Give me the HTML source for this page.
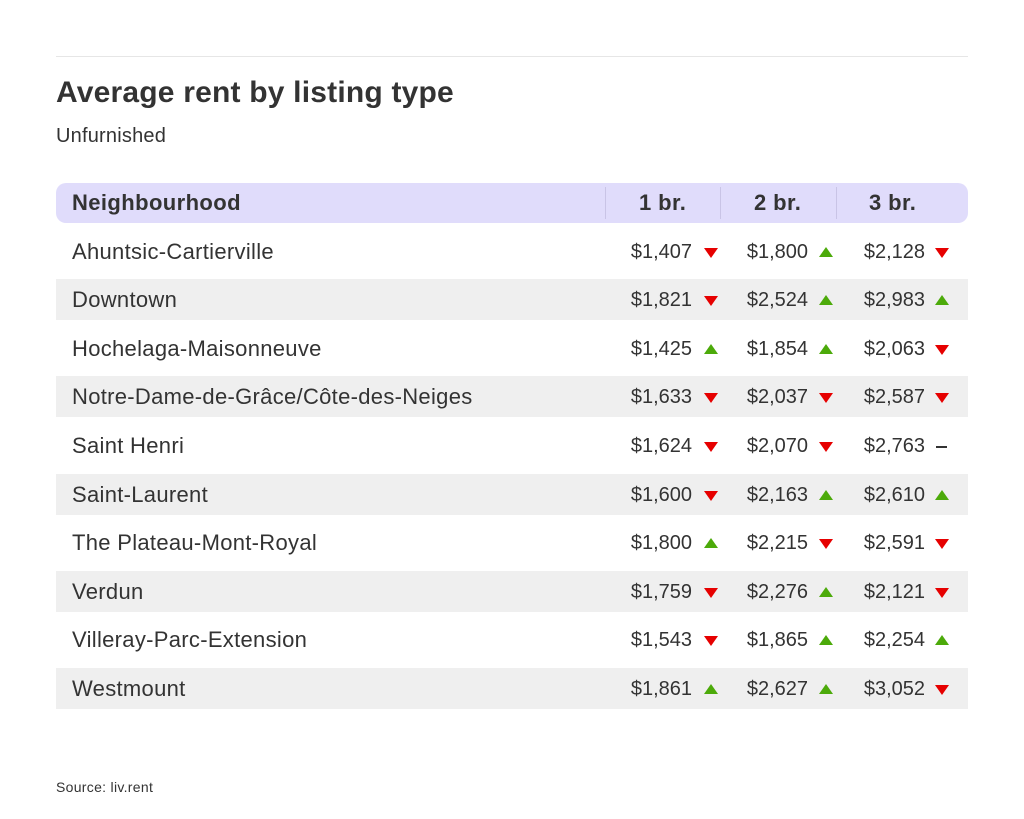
<!DOCTYPE html>
<html><head><meta charset="utf-8"><style>
body{margin:0;width:1024px;height:819px;background:#fff;font-family:"Liberation Sans",sans-serif;color:#333;position:relative;overflow:hidden}
.a{position:absolute}
.hr{left:56px;top:56px;width:912px;height:1px;background:#e6e6e6}
.t{left:56px;top:76px;font-size:30px;font-weight:bold;color:#333;letter-spacing:0.2px}
.s{left:56px;top:125px;font-size:20px;letter-spacing:0.2px}
.hd{left:56px;top:183px;width:912px;height:40px;background:#e0dcfb;border-radius:10px}
.hd span{position:absolute;top:7px;font-size:22px;font-weight:bold;letter-spacing:0.4px}
.sep{position:absolute;top:4px;width:1px;height:32px;background:#c9c4e6}
.row{position:absolute;left:56px;width:912px;height:41px}
.g{background:#efefef}
.row span{position:absolute;top:10px;font-size:20px}
.nm{font-size:22px!important;letter-spacing:0.3px;top:8px!important}
.v{text-align:right;width:100px}
.up,.dn{position:absolute;width:0;height:0;border-left:7px solid transparent;border-right:7px solid transparent}
.up{border-bottom:10px solid #4caa0a;top:16px}
.dn{border-top:10px solid #e60000;top:17px}
.dash{position:absolute;width:11px;height:2px;background:#333;top:21px}
.src{left:56px;top:779px;font-size:14px;letter-spacing:0.3px}
</style></head><body>
<div class="a hr"></div>
<div class="a t">Average rent by listing type</div>
<div class="a s">Unfurnished</div>
<div class="a hd">
<span style="left:16px">Neighbourhood</span>
<div class="sep" style="left:549px"></div><div class="sep" style="left:664px"></div><div class="sep" style="left:780px"></div>
<span style="left:583px">1 br.</span><span style="left:698px">2 br.</span><span style="left:813px">3 br.</span>
</div>
<div id="rows"></div>
<div class="a src">Source: liv.rent</div>
<script>
var d=[["Ahuntsic-Cartierville","$1,407","d","$1,800","u","$2,128","d"],
["Downtown","$1,821","d","$2,524","u","$2,983","u"],
["Hochelaga-Maisonneuve","$1,425","u","$1,854","u","$2,063","d"],
["Notre-Dame-de-Grâce/Côte-des-Neiges","$1,633","d","$2,037","d","$2,587","d"],
["Saint Henri","$1,624","d","$2,070","d","$2,763","n"],
["Saint-Laurent","$1,600","d","$2,163","u","$2,610","u"],
["The Plateau-Mont-Royal","$1,800","u","$2,215","d","$2,591","d"],
["Verdun","$1,759","d","$2,276","u","$2,121","d"],
["Villeray-Parc-Extension","$1,543","d","$1,865","u","$2,254","u"],
["Westmount","$1,861","u","$2,627","u","$3,052","d"]];
var h="",ends=[636,752,869],tri=[648,763,879];
d.forEach(function(r,i){var top=230.5+i*48.6;
h+='<div class="row'+(i%2?' g':'')+'" style="top:'+top+'px"><span class="nm" style="left:16px">'+r[0]+'</span>';
for(var c=0;c<3;c++){h+='<span class="v" style="left:'+(ends[c]-100)+'px">'+r[1+c*2]+'</span>';
var k=r[2+c*2];h+=k=="u"?'<div class="up" style="left:'+tri[c]+'px"></div>':k=="d"?'<div class="dn" style="left:'+tri[c]+'px"></div>':'<div class="dash" style="left:'+(tri[c]+1)+'px"></div>';}
h+='</div>';});
document.getElementById("rows").innerHTML=h;
</script>
</body></html>
